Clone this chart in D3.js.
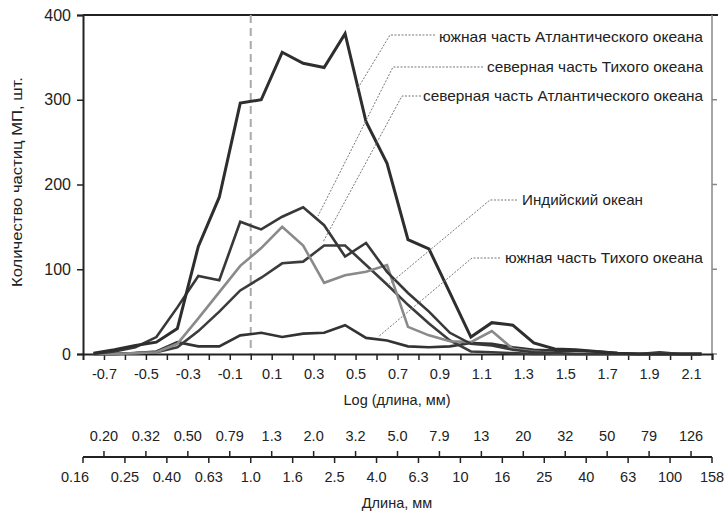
<!DOCTYPE html>
<html>
<head>
<meta charset="utf-8">
<script src="https://cdn.jsdelivr.net/npm/d3@7"></script>
<style>
  body { margin: 0; background: #fff; }
  svg text { font-family: "Liberation Sans", Arial, sans-serif; fill: #222; }
</style>
</head>
<body>
<script>
// bin centres, log10(length, mm)
const bins = [-0.75,-0.65,-0.55,-0.45,-0.35,-0.25,-0.15,-0.05,0.05,0.15,0.25,0.35,0.45,0.55,0.65,0.75,0.85,0.95,1.05,1.15,1.25,1.35,1.45,1.55,1.65,1.75,1.85,1.95,2.05,2.15]

const southAtlantic = [1,5,10,14,30,127,185,296,300,356,343,338,378,274,225,135,124,72,20,37,34,13,6,5,3,1,0,0,0,0]
const northPacific  = [0,3,8,20,55,92,87,156,147,162,173,152,115,131,97,72,50,25,12,10,5,2,1,0,0,0,0,0,0,0]
const indian        = [0,0,1,2,12,42,73,104,125,150,128,84,93,97,105,32,22,15,14,27,6,3,1,0,0,0,0,0,0,0]
const northAtlantic = [0,0,1,2,8,27,50,75,90,107,109,128,128,105,82,58,36,16,3,2,1,0,0,0,0,0,0,0,0,0]
const southPacific  = [0,0,1,3,14,9,9,22,25,20,24,25,34,19,16,9,8,9,13,12,8,5,4,4,3,1,0,2,0,0]

const yTicks = [0, 100, 200, 300, 400]
const logLabels = [-0.7,-0.5,-0.3,-0.1,0.1,0.3,0.5,0.7,0.9,1.1,1.3,1.5,1.7,1.9,2.1]
const lenUpper = ["0.20","0.32","0.50","0.79","1.3","2.0","3.2","5.0","7.9","13","20","32","50","79","126"]
const lenLower = ["0.16","0.25","0.40","0.63","1.0","1.6","2.5","4.0","6.3","10","16","25","40","63","100","158"]

// annotation layout (text end, leader elbow and end point)
const labels = [
  { text: "южная часть Атлантического океана", tx: 703, ty: 37, len: 264, hx: 435, kx: 390, ky: 35, ex: 358, ey: 88 },
  { text: "северная часть Тихого океана", tx: 703, ty: 67, len: 216, hx: 483, kx: 393, ky: 67, ex: 318, ey: 216 },
  { text: "северная часть Атлантического океана", tx: 703, ty: 96, len: 280, hx: 421, kx: 402, ky: 96, ex: 323, ey: 242 },
  { text: "Индийский океан", tx: 643, ty: 200, len: 121, hx: 517, kx: 490, ky: 200, ex: 388, ey: 285 },
  { text: "южная часть Тихого океана", tx: 703, ty: 258, len: 198, hx: 500, kx: 472, ky: 258, ex: 378, ey: 337 }
]

const W = 724, H = 512
const pLeft = 83, pRight = 712, pTop = 15, pBottom = 354

const svg = d3.select("body").append("svg")
  .attr("width", W)
  .attr("height", H)

const x = d3.scaleLinear().domain([-0.8, 2.2]).range([pLeft, pRight])
const y = d3.scaleLinear().domain([0, 400]).range([pBottom, pTop])

// frame
svg.append("line").attr("x1", pLeft).attr("x2", 718).attr("y1", pTop).attr("y2", pTop)
  .attr("stroke", "#222").attr("stroke-width", 2)
svg.append("line").attr("x1", pRight).attr("x2", pRight).attr("y1", pTop).attr("y2", pBottom)
  .attr("stroke", "#888").attr("stroke-width", 1.5)
svg.selectAll("line.rtick").data(yTicks.slice(0, 4)).enter().append("line")
  .attr("x1", pRight).attr("x2", pRight + 5)
  .attr("y1", d => y(d)).attr("y2", d => y(d))
  .attr("stroke", "#888").attr("stroke-width", 1.5)

// dashed line at 1 mm
svg.append("line").attr("x1", x(0)).attr("x2", x(0)).attr("y1", pTop).attr("y2", pBottom)
  .attr("stroke", "#aaa").attr("stroke-width", 2).attr("stroke-dasharray", "8,5")

// y axis
const yAxis = svg.append("g").attr("transform", `translate(${pLeft},0)`)
  .call(d3.axisLeft(y).tickValues(yTicks).tickSize(6).tickPadding(6))
yAxis.select(".domain").attr("stroke", "#222").attr("stroke-width", 2)
yAxis.selectAll(".tick line").attr("stroke", "#222").attr("stroke-width", 1.5)
yAxis.selectAll(".tick text").attr("font-size", 16).attr("fill", "#1a1a1a")

svg.append("text")
  .attr("transform", `translate(22,182) rotate(-90)`)
  .attr("text-anchor", "middle")
  .attr("font-size", 14)
  .attr("textLength", 210)
  .attr("lengthAdjust", "spacingAndGlyphs")
  .text("Количество частиц МП, шт.")

// x axis (log length)
const tickVals = d3.range(-7, 23).map(i => i / 10)
const xAxis = svg.append("g").attr("transform", `translate(0,${pBottom})`)
  .call(d3.axisBottom(x).tickValues(tickVals).tickSize(6).tickPadding(9)
    .tickFormat(d => logLabels.some(v => Math.abs(v - d) < 1e-9) ? d3.format(".1f")(d).replace("−", "-") : ""))
xAxis.select(".domain").attr("stroke", "#222").attr("stroke-width", 2)
xAxis.selectAll(".tick line").attr("stroke", "#222").attr("stroke-width", 1.5)
xAxis.selectAll(".tick text").attr("font-size", 14.5).attr("fill", "#222")

svg.append("text").attr("x", 397).attr("y", 405).attr("text-anchor", "middle")
  .attr("font-size", 14.5).text("Log (длина, мм)")

// length axis (mm)
const ly = 457
svg.append("line").attr("x1", pLeft).attr("x2", pRight).attr("y1", ly).attr("y2", ly)
  .attr("stroke", "#222").attr("stroke-width", 2)
svg.selectAll("line.up").data(lenUpper).enter().append("line")
  .attr("x1", (d, i) => x(-0.7 + i * 0.2)).attr("x2", (d, i) => x(-0.7 + i * 0.2))
  .attr("y1", ly).attr("y2", ly - 6).attr("stroke", "#222").attr("stroke-width", 1.5)
svg.selectAll("text.up").data(lenUpper).enter().append("text")
  .attr("x", (d, i) => x(-0.7 + i * 0.2)).attr("y", 441)
  .attr("text-anchor", "middle").attr("font-size", 14.5).text(d => d)
svg.selectAll("line.down").data(lenLower).enter().append("line")
  .attr("x1", (d, i) => x(-0.8 + i * 0.2)).attr("x2", (d, i) => x(-0.8 + i * 0.2))
  .attr("y1", ly).attr("y2", ly + 6).attr("stroke", "#222").attr("stroke-width", 1.5)
svg.selectAll("text.down").data(lenLower).enter().append("text")
  .attr("x", (d, i) => x(-0.8 + i * 0.2) - (i === 0 ? 8 : 0)).attr("y", 482)
  .attr("text-anchor", "middle").attr("font-size", 14.5).text(d => d)

svg.append("text").attr("x", 397).attr("y", 508).attr("text-anchor", "middle")
  .attr("font-size", 14.5).text("Длина, мм")

// series
const series = [
  { values: southPacific, color: "#333", width: 2.6 },
  { values: northAtlantic, color: "#3c3c3c", width: 2.6 },
  { values: indian, color: "#8a8a8a", width: 2.6 },
  { values: northPacific, color: "#383838", width: 2.6 },
  { values: southAtlantic, color: "#2e2e2e", width: 3 }
]
const line = d3.line().x((d, i) => x(bins[i])).y(d => y(d))
svg.selectAll("path.series").data(series).enter().append("path")
  .attr("class", "series")
  .attr("d", d => line(d.values))
  .attr("fill", "none")
  .attr("stroke", d => d.color)
  .attr("stroke-width", d => d.width)
  .attr("stroke-linejoin", "miter")

// labels with leader lines
const lg = svg.selectAll("g.lab").data(labels).enter().append("g")
lg.append("polyline")
  .attr("points", d => `${d.hx},${d.ky} ${d.kx},${d.ky} ${d.ex},${d.ey}`)
  .attr("fill", "none").attr("stroke", "#777").attr("stroke-width", 1)
  .attr("stroke-dasharray", "2,1.5")
lg.append("text")
  .attr("x", d => d.tx).attr("y", d => d.ty + 5)
  .attr("text-anchor", "end").attr("font-size", 14.5)
  .attr("textLength", d => d.len)
  .attr("lengthAdjust", "spacingAndGlyphs")
  .text(d => d.text)
</script>
</body>
</html>
